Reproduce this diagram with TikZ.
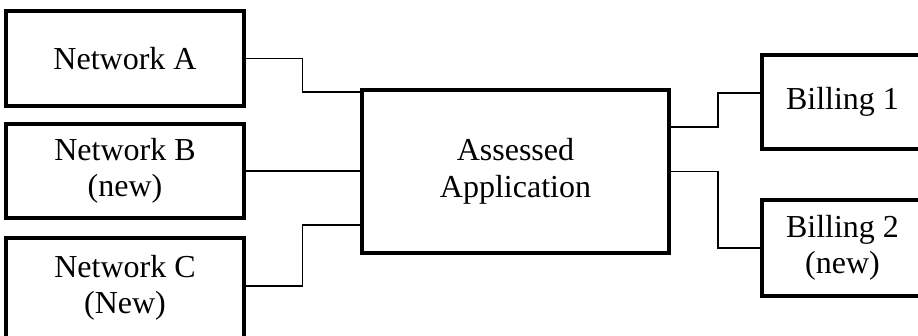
\documentclass[tikz,border=0pt]{standalone}
\usepackage{fontspec}
\setmainfont{Liberation Serif}
\usetikzlibrary{calc}

\begin{document}
\begin{tikzpicture}[x=1pt, y=1pt,
        box/.style={draw, line width=4pt, align=center, inner sep=0pt,
                    font=\fontsize{32}{36.5}\selectfont},
        wire/.style={line width=1.2pt}]
        % Frame
        \useasboundingbox (0,0) rectangle (918,335);

        % Networks
        \node[box, minimum width=237.7, minimum height=95] (netA) at (125,276.5) {Network A};
        \node[box, minimum width=237.7, minimum height=94] (netB) at (125,164) {Network B\\(new)};
        \node[box, minimum width=237.7, minimum height=100] (netC) at (125,47) {Network C\\(New)};

        % Application
        \node[box, minimum width=307, minimum height=163] (app) at (515.5,163.5) {Assessed\\Application};

        % Billing systems
        \node[box, minimum width=161, minimum height=94] (bill1) at (842.5,233) {Billing 1};
        \node[box, minimum width=161, minimum height=96] (bill2) at (842.5,87) {Billing 2\\(new)};

        % Ports
        \coordinate (pA) at ([yshift=-4pt]app.north west);
        \coordinate (pC) at ([yshift=30pt]app.south west);
        \coordinate (oC) at ([yshift=2pt]netC.east);
        \coordinate (p1) at ([yshift=-39pt]app.north east);
        \coordinate (q1) at ([yshift=9pt]bill1.west);

        % Links
        \draw[wire] (netA.east) -- ++(57,0) |- (pA);
        \draw[wire] (netB.east) -- (netB.east -| app.west);
        \draw[wire] (oC) -- ++(57,0) |- (pC);
        \draw[wire] (p1) -- ++(47,0) |- (q1);
        \draw[wire] (app.east) -- ++(47,0) |- (bill2.west);
\end{tikzpicture}
\end{document}
